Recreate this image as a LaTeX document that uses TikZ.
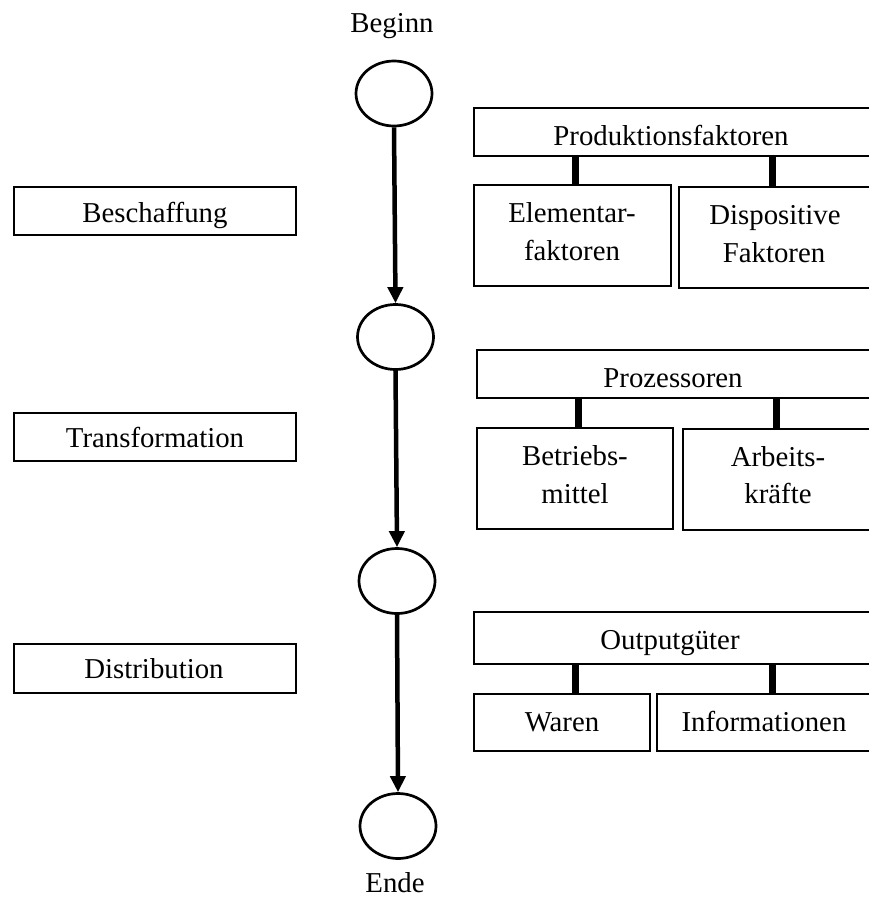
\documentclass[tikz,border=0pt]{standalone}
\usepackage{fontspec}
\setmainfont{Liberation Serif}
\usetikzlibrary{shapes.geometric,arrows.meta}
\begin{document}
\begin{tikzpicture}[x=1pt,y=-1pt,
  box/.style={draw, line width=2.7pt, rectangle, inner sep=0pt},
  oval/.style={draw, ellipse, line width=2.7pt, minimum width=76pt, minimum height=65pt, inner sep=0pt},
  txt/.style={anchor=base, inner sep=0pt, font=\fontsize{28.8}{34}\selectfont},
  flow/.style={line width=4.5pt, -{Triangle[length=16pt,width=15pt]}},
  bar/.style={line width=7pt}]
\useasboundingbox (0,0) rectangle (869,899);
\clip (0,0) rectangle (869,899);

% circles
\node[oval] (c1) at (394,93.5) {};
\node[oval] (c2) at (395.5,337) {};
\node[oval] (c3) at (397,581) {};
\node[oval] (c4) at (398,826) {};
\node[txt] (beginn) at (392,33) {Beginn};
\node[txt] (ende) at (395,892) {Ende};

\draw[flow] (c1.south) -- (c2.north);
\draw[flow] (c2.south) -- (c3.north);
\draw[flow] (c3.south) -- (c4.north);

% left boxes
\node[box, minimum width=282pt, minimum height=48pt] (L1) at (155,211) {};
\node[box, minimum width=282pt, minimum height=48pt] (L2) at (155,437) {};
\node[box, minimum width=282pt, minimum height=49pt] (L3) at (155,668.5) {};
\node[txt] (tL1) at (155,222) {Beschaffung};
\node[txt] (tL2) at (155,447) {Transformation};
\node[txt] (tL3) at (154,678) {Distribution};

% group 1
\node[box, minimum width=397pt, minimum height=48pt] (P) at (672.5,132) {};
\node[box, minimum width=197pt, minimum height=101pt] (E) at (572.5,235.5) {};
\node[box, minimum width=192pt, minimum height=101pt] (D) at (775,237.5) {};
\node[txt] (tP) at (671,145) {Produktionsfaktoren};
\node[txt] (tE1) at (572,222) {Elementar-};
\node[txt] (tE2) at (572,260) {faktoren};
\node[txt] (tD1) at (775,224) {Dispositive};
\node[txt] (tD2) at (774,262) {Faktoren};
\draw[bar] ([xshift=2.5pt]E.north |- P.south) -- ([xshift=2.5pt]E.north);
\draw[bar] ([xshift=-3pt]D.north |- P.south) -- ([xshift=-3pt]D.north);

% group 2
\node[box, minimum width=394pt, minimum height=48pt] (Pr) at (674,374) {};
\node[box, minimum width=196pt, minimum height=101pt] (B) at (575,478.5) {};
\node[box, minimum width=190pt, minimum height=101pt] (A) at (778,479.5) {};
\node[txt] (tPr) at (673,387) {Prozessoren};
\node[txt] (tB1) at (575,465) {Betriebs-};
\node[txt] (tB2) at (575,503) {mittel};
\node[txt] (tA1) at (778,466) {Arbeits-};
\node[txt] (tA2) at (778,503) {kräfte};
\draw[bar] ([xshift=3pt]B.north |- Pr.south) -- ([xshift=3pt]B.north);
\draw[bar] ([xshift=-2pt]A.north |- Pr.south) -- ([xshift=-2pt]A.north);

% group 3
\node[box, minimum width=397pt, minimum height=52pt] (O) at (672.5,638) {};
\node[box, minimum width=176pt, minimum height=57pt] (W) at (562,722.5) {};
\node[box, minimum width=214pt, minimum height=57pt] (I) at (764,722.5) {};
\node[txt] (tO) at (670,649) {Outputgüter};
\node[txt] (tW) at (562,731) {Waren};
\node[txt] (tI) at (764,731) {Informationen};
\draw[bar] ([xshift=13pt]W.north |- O.south) -- ([xshift=13pt]W.north);
\draw[bar] ([xshift=8pt]I.north |- O.south) -- ([xshift=8pt]I.north);
\end{tikzpicture}
\end{document}
